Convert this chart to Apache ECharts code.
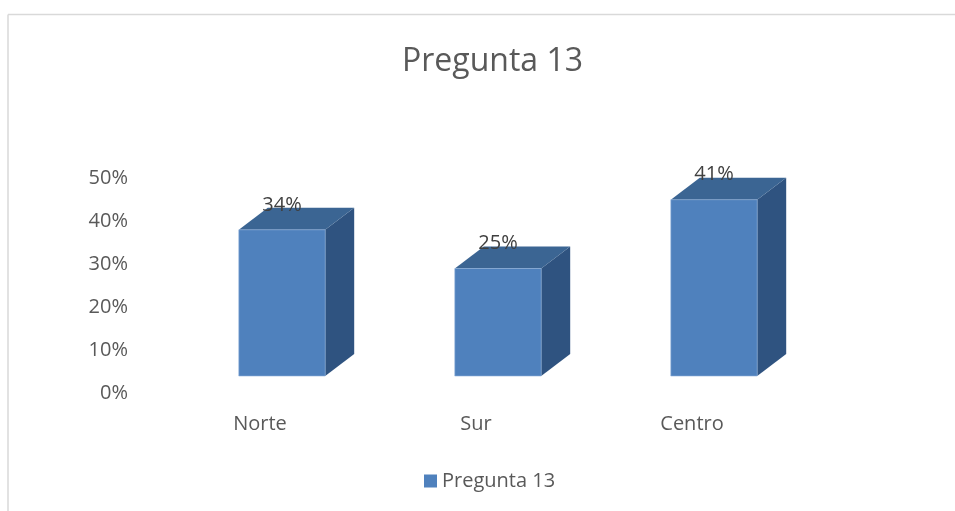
<!DOCTYPE html>
<html>
<head>
<meta charset="utf-8">
<script src="https://cdn.jsdelivr.net/npm/echarts@6/dist/echarts.min.js"></script>
<style>
  html, body { margin: 0; padding: 0; background: #fff; }
  #main { width: 955px; height: 511px; }
</style>
</head>
<body>
<div id="main"></div>
<script>
var categories = ['Norte', 'Sur', 'Centro'];
var values = [0.34, 0.25, 0.41];
var seriesName = 'Pregunta 13';

var FONT = '"Open Sans", sans-serif';
var DX = 29, DY = -22, LIFT = 17; // 3D depth offsets
var SHIFT = 22; // front face is drawn right of the category label

var chart = echarts.init(document.getElementById('main'));

function renderBox(params, api) {
  var idx = api.value(0);
  var v = api.value(1);
  var top = api.coord([idx, v]);
  var base = api.coord([idx, 0]);
  var w = api.size([1, 0])[0] * 0.4;
  var x0 = top[0] + SHIFT - w / 2;
  var x1 = x0 + w;
  var y0 = top[1] - LIFT;
  var y1 = base[1] - LIFT;
  return {
    type: 'group',
    children: [
      {
        type: 'polygon',
        shape: { points: [[x1, y0], [x1 + DX, y0 + DY], [x1 + DX, y1 + DY], [x1, y1]] },
        style: { fill: '#2f5380' }
      },
      {
        type: 'polygon',
        shape: { points: [[x0, y0], [x0 + DX, y0 + DY], [x1 + DX, y0 + DY], [x1, y0]] },
        style: { fill: '#3b6593' }
      },
      {
        type: 'rect',
        shape: { x: x0, y: y0, width: w, height: y1 - y0 },
        style: { fill: '#4f81bd', stroke: '#8eb0da', lineWidth: 0.6 }
      },
      {
        type: 'text',
        style: {
          x: (x0 + x1) / 2, y: y0 - 25,
          text: Math.round(v * 100) + '%',
          align: 'center', verticalAlign: 'middle',
          fill: '#404040', font: '20px ' + FONT
        }
      }
    ]
  };
}

var option = {
  backgroundColor: '#fff',
  animation: false,
  title: {
    text: 'Pregunta 13',
    left: 397, top: 41,
    textStyle: { fontFamily: FONT, fontSize: 32, fontWeight: 'normal', color: '#595959' }
  },
  legend: {
    bottom: 15, left: 419,
    icon: 'rect', itemWidth: 13, itemHeight: 13, itemGap: 8,
    textStyle: { fontFamily: FONT, fontSize: 20, color: '#595959' },
    data: [{ name: seriesName, itemStyle: { color: '#4f81bd' } }]
  },
  grid: { left: 152, right: 155, top: 178, bottom: 118 },
  xAxis: {
    type: 'category',
    data: categories,
    axisLine: { show: false },
    axisTick: { show: false },
    axisLabel: { margin: 21, fontFamily: FONT, fontSize: 20, color: '#595959' }
  },
  yAxis: {
    type: 'value',
    min: 0, max: 0.5, interval: 0.1,
    splitLine: { show: false },
    axisLine: { show: false },
    axisTick: { show: false },
    axisLabel: {
      margin: 24, fontFamily: FONT, fontSize: 20, color: '#595959',
      formatter: function (v) { return Math.round(v * 100) + '%'; }
    }
  },
  graphic: [
    { type: 'line', shape: { x1: 8, y1: 14.5, x2: 955, y2: 14.5 }, style: { stroke: '#d9d9d9', lineWidth: 1.5 } },
    { type: 'line', shape: { x1: 8, y1: 14.5, x2: 8, y2: 511 }, style: { stroke: '#d9d9d9', lineWidth: 1.5 } }
  ],
  series: [{
    name: seriesName,
    type: 'custom',
    renderItem: renderBox,
    itemStyle: { color: '#4f81bd' },
    data: categories.map(function (c, i) { return [i, values[i]]; })
  }]
};
chart.setOption(option);
</script>
</body>
</html>
